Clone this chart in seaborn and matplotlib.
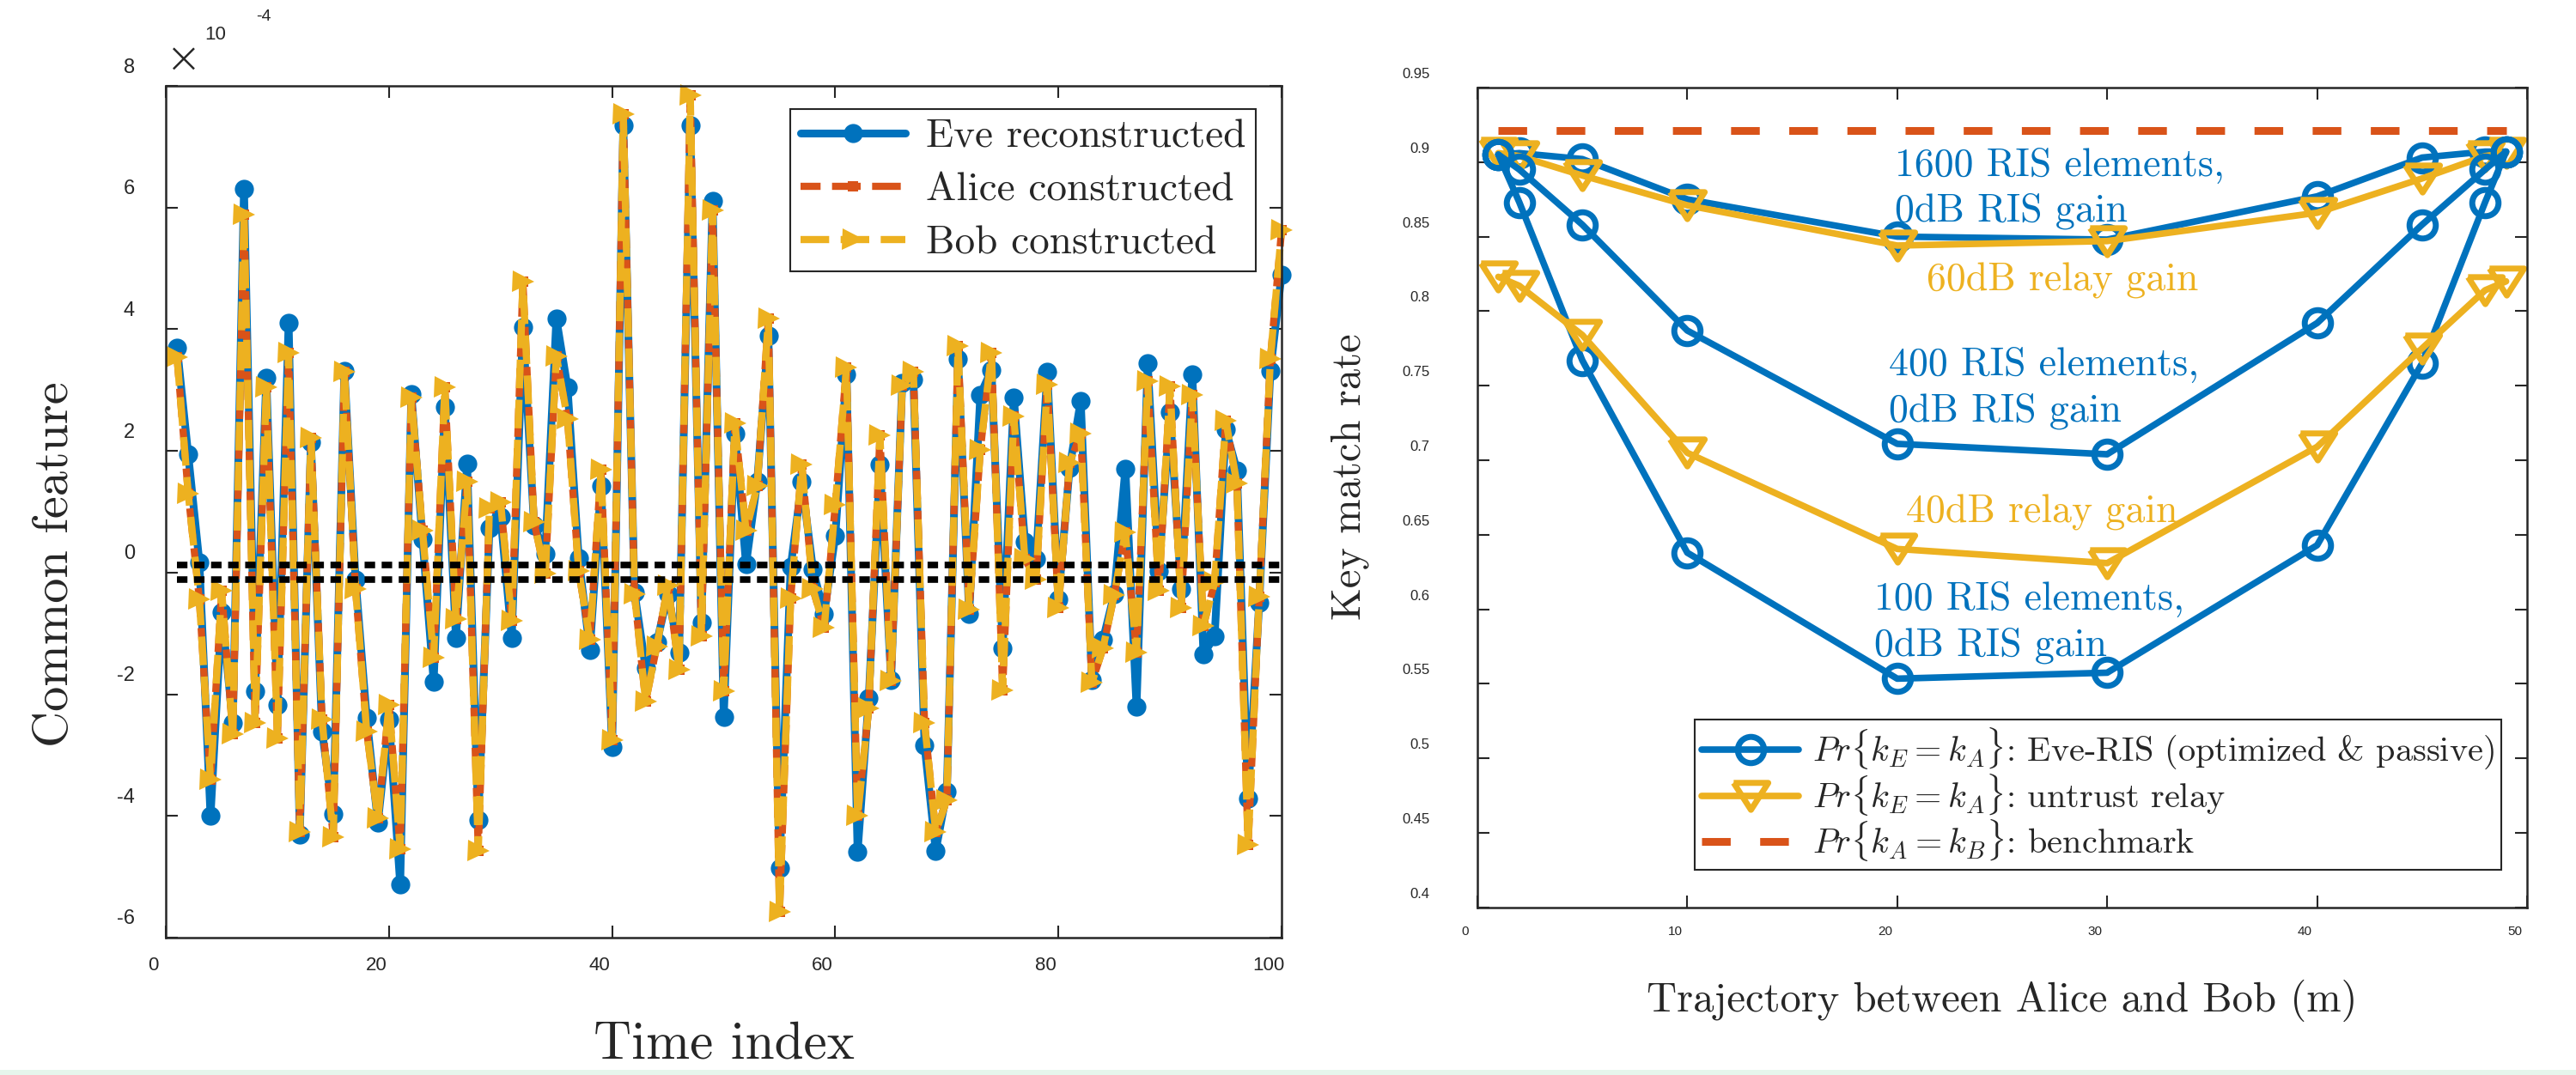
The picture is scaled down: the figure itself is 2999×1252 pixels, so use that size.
import numpy as np
import pandas as pd
import matplotlib
matplotlib.use("Agg")
import matplotlib.pyplot as plt
import matplotlib.transforms as mtransforms
from matplotlib.patches import Rectangle
import seaborn as sns

# ---- left panel data (values in units of 1e-4) ----
time_idx = list(range(1, 101))
eve = [3.70, 1.94, 0.17, -4.00, -0.65, -2.47, 6.30, -1.95, 3.20, -2.17,
       4.11, -4.30, 2.15, -2.61, -3.97, 3.32, -0.11, -2.39, -4.11, -2.42,
       -5.12, 2.93, 0.55, -1.79, 2.72, -1.08, 1.79, -4.07, 0.73, 0.92,
       -1.07, 4.03, 0.78, 0.31, 4.17, 3.04, 0.24, -1.27, 1.42, -2.87,
       7.35, -0.32, -1.57, -1.15, -0.35, -1.32, 7.35, -0.82, 6.11, -2.37,
       2.29, 0.14, 1.49, 3.89, -4.85, 0.09, 1.49, 0.05, -0.68, 0.61,
       3.26, -4.59, -2.06, 1.77, -1.76, 3.12, 3.18, -2.84, -4.57, -3.60,
       3.51, -0.68, 2.92, 3.33, -1.24, 2.88, 0.50, 0.22, 3.30, -0.44,
       1.72, 2.82, -1.76, -1.10, -0.35, 1.70, -2.20, 3.44, 0.03, 2.64,
       -0.27, 3.26, -1.34, -1.05, 2.35, 1.68, -3.71, -0.49, 3.32, 4.90]
bob = [3.54, 1.30, -0.44, -3.41, -0.30, -2.66, 5.88, -2.47, 3.04, -2.73,
       3.61, -4.27, 2.22, -2.42, -4.35, 3.30, -0.27, -2.61, -4.04, -2.18,
       -4.54, 2.88, 0.69, -1.40, 3.04, -0.77, 1.49, -4.57, 1.06, 1.16,
       -0.79, 4.78, 0.83, -0.02, 3.56, 2.52, 0.03, -1.10, 1.69, -2.75,
       7.53, -0.35, -2.12, -1.21, -0.21, -1.59, 7.84, -1.04, 5.96, -1.95,
       2.45, 0.69, 1.42, 4.17, -5.57, -0.42, 1.77, -0.27, -0.91, 1.11,
       3.37, -4.00, -2.23, 2.26, -1.78, 3.07, 3.30, -2.47, -4.26, -3.74,
       3.72, -0.61, 2.02, 3.61, -1.93, 2.57, 0.22, -0.11, 3.09, -0.58,
       1.80, 2.29, -1.81, -1.24, -0.37, 0.66, -1.31, 3.14, -0.30, 3.06,
       -0.58, 2.92, -0.87, -0.16, 2.50, 1.46, -4.47, -0.40, 3.51, 5.63]
alice = list(bob)
guard_x = [1, 100]
guard_hi = [0.12, 0.12]
guard_lo = [-0.12, -0.12]

# ---- right panel data ----
traj = [1, 2, 5, 10, 20, 30, 40, 45, 48, 49]
ris_1600 = [0.905, 0.906, 0.902, 0.875, 0.850, 0.848, 0.877, 0.903, 0.907, 0.907]
ris_400 = [0.905, 0.895, 0.858, 0.787, 0.711, 0.704, 0.792, 0.858, 0.895, 0.907]
ris_100 = [0.905, 0.873, 0.767, 0.638, 0.5535, 0.5575, 0.643, 0.765, 0.873, 0.907]
relay_60 = [0.906, 0.904, 0.891, 0.871, 0.844, 0.847, 0.866, 0.889, 0.904, 0.906]
relay_40 = [0.823, 0.817, 0.784, 0.705, 0.6405, 0.631, 0.709, 0.775, 0.814, 0.820]
bench = [0.921, 0.921, 0.921, 0.921, 0.921, 0.921, 0.921, 0.921, 0.921, 0.921]

BLUE = "#0072BD"
RED = "#D95319"
YEL = "#EDB120"
DARK = "#262626"
SERIF = "cmr10"

sns.set_style("ticks")
plt.rcParams["font.family"] = ["Liberation Sans", "DejaVu Sans"]
plt.rcParams["mathtext.fontset"] = "cm"
plt.rcParams["axes.unicode_minus"] = False

fig = plt.figure(figsize=(29.99, 12.52), dpi=100)
ax1 = fig.add_axes([0.0644, 0.1278, 0.4331, 0.7923])
ax2 = fig.add_axes([0.5735, 0.1558, 0.4075, 0.7628])

# ---------------- left panel ----------------
left = pd.DataFrame({"t": time_idx, "eve": eve, "alice": alice, "bob": bob})
sns.lineplot(data=left, x="t", y="eve", ax=ax1, color=BLUE, lw=6.5,
             marker="o", markersize=16, markeredgewidth=0, clip_on=False,
             label="Eve reconstructed")
sns.lineplot(data=left, x="t", y="alice", ax=ax1, color=RED, lw=6,
             ls=(1.2, (4.0, 1.6)), marker="s", markersize=8,
             markeredgewidth=0, clip_on=False, label="Alice constructed")
sns.lineplot(data=left, x="t", y="bob", ax=ax1, color=YEL, lw=6,
             ls=(0, (4.0, 1.6)), marker=">", markersize=18,
             markeredgewidth=0, clip_on=False, label="Bob constructed")
for gy in (guard_hi, guard_lo):
    sns.lineplot(x=guard_x, y=gy, ax=ax1, color="black", lw=5.5,
                 ls=(0, (1.6, 1.0)), legend=False)

ax1.set_xlim(0, 100)
ax1.set_ylim(-6, 8)
ax1.set_xticks(range(0, 101, 20))
ax1.set_yticks(range(-6, 9, 2))
ax1.set_xlabel("")
ax1.set_ylabel("")
ax1.tick_params(direction="in", length=10, width=1.5, colors=DARK,
                top=True, right=True, labelsize=17)
ax1.tick_params(axis="y", pad=26)
ax1.tick_params(axis="x", pad=16, labelsize=16)
for sp in ax1.spines.values():
    sp.set_linewidth(1.8)
    sp.set_color(DARK)

leg1 = ax1.legend(loc="upper right", bbox_to_anchor=(0.977, 0.973),
                  borderaxespad=0, fancybox=False, framealpha=1,
                  edgecolor=DARK, prop={"family": SERIF, "size": 34},
                  handlelength=2.6, labelspacing=0.42, borderpad=0.25,
                  handletextpad=0.5)
leg1.get_frame().set_linewidth(1.5)

fig.text(843 / 2999, 1 - 1217 / 1252, "Time index", family=SERIF,
         fontsize=44, ha="center", va="center", color=DARK)
fig.text(64 / 2999, 1 - 657 / 1252, "Common feature", family=SERIF,
         fontsize=42, ha="center", va="center", rotation=90, color=DARK)
fig.text(214 / 2999, 1 - 70 / 1252, "\u00d7", family="DejaVu Sans",
         fontsize=36, fontweight="light", ha="center", va="center",
         color=DARK)
fig.text(251 / 2999, 1 - 40 / 1252, "10", fontsize=16, ha="center",
         va="center", color=DARK)
fig.text(307 / 2999, 1 - 19 / 1252, "-4", fontsize=14, ha="center",
         va="center", color=DARK)

# ---------------- right panel ----------------
tri = [(-1, 0.78), (1, 0.78), (0, -0.78), (-1, 0.78)]
right = pd.DataFrame({"x": traj, "r1600": ris_1600, "r400": ris_400,
                      "r100": ris_100, "g60": relay_60, "g40": relay_40,
                      "bench": bench})
circ_kw = dict(color=BLUE, lw=5.5, marker="o", markersize=22,
               markerfacecolor="none", markeredgecolor=BLUE,
               markeredgewidth=5, clip_on=False)
tri_kw = dict(color=YEL, lw=5.5, marker=tri, markersize=29,
              markerfacecolor="none", markeredgecolor=YEL,
              markeredgewidth=5, clip_on=False)
sns.lineplot(data=right, x="x", y="r1600", ax=ax2,
             label=r"$Pr\{k_E = k_A\}$: Eve-RIS (optimized & passive)", **circ_kw)
sns.lineplot(data=right, x="x", y="g60", ax=ax2,
             label=r"$Pr\{k_E = k_A\}$: untrust relay", **tri_kw)
sns.lineplot(data=right, x="x", y="bench", ax=ax2, color=RED, lw=6.5,
             ls=(0, (3.7, 3.8)), label=r"$Pr\{k_A = k_B\}$: benchmark")
sns.lineplot(data=right, x="x", y="r400", ax=ax2, legend=False, **circ_kw)
sns.lineplot(data=right, x="x", y="r100", ax=ax2, legend=False, **circ_kw)
sns.lineplot(data=right, x="x", y="g40", ax=ax2, legend=False, **tri_kw)

notes = [
    (19.9, 0.8975, "1600 RIS elements,", BLUE),
    (19.9, 0.867, "0dB RIS gain", BLUE),
    (21.4, 0.8205, "60dB relay gain", YEL),
    (19.6, 0.7638, "400 RIS elements,", BLUE),
    (19.6, 0.7327, "0dB RIS gain", BLUE),
    (20.4, 0.6648, "40dB relay gain", YEL),
    (18.9, 0.6069, "100 RIS elements,", BLUE),
    (18.9, 0.5757, "0dB RIS gain", BLUE),
]
for nx, ny, txt, col in notes:
    ax2.text(nx, ny, txt, family=SERIF, fontsize=33, color=col,
             ha="left", va="center")

ax2.set_xlim(0, 50)
ax2.set_ylim(0.4, 0.95)
ax2.set_xticks(range(0, 51, 10))
yt = [round(0.4 + 0.05 * i, 2) for i in range(12)]
ax2.set_yticks(yt)
ax2.set_yticklabels([f"{v:g}" for v in yt])
ax2.set_xlabel("")
ax2.set_ylabel("")
ax2.tick_params(direction="in", length=10, width=1.5, colors=DARK,
                top=True, right=True, labelsize=12)
ax2.tick_params(axis="y", pad=40)
ax2.tick_params(axis="x", pad=15, labelsize=11)
for sp in ax2.spines.values():
    sp.set_linewidth(1.8)
    sp.set_color(DARK)

leg2 = ax2.legend(loc="lower right", bbox_to_anchor=(0.9755, 0.046),
                  borderaxespad=0, fancybox=False, framealpha=1,
                  edgecolor=DARK, prop={"family": SERIF, "size": 29},
                  handlelength=2.8, labelspacing=0.0, borderpad=0.2,
                  handletextpad=0.4)
leg2.get_frame().set_linewidth(1.5)

fig.text(2331 / 2999, 1 - 1165 / 1252, "Trajectory between Alice and Bob (m)",
         family=SERIF, fontsize=35, ha="center", va="center", color=DARK)
fig.text(1572 / 2999, 1 - 555 / 1252, "Key match rate", family=SERIF,
         fontsize=35, ha="center", va="center", rotation=90, color=DARK)

# thin mint strip at the very bottom of the screenshot
fig.patches.append(Rectangle((0, 0), 1, 6 / 1252, transform=fig.transFigure,
                             facecolor="#e6f5ec", edgecolor="none"))

# MATLAB export left the tick labels slightly displaced
fig.canvas.draw()


def shift(labels, dx, dy):
    off = mtransforms.ScaledTranslation(dx / 100, dy / 100, fig.dpi_scale_trans)
    for lab in labels:
        lab.set_transform(lab.get_transform() + off)


shift([t.label1 for t in ax1.yaxis.get_major_ticks()], 0, 24)
shift([t.label1 for t in ax1.xaxis.get_major_ticks()], -15, 0)
shift([t.label1 for t in ax2.yaxis.get_major_ticks()], 0, 17)
shift([t.label1 for t in ax2.xaxis.get_major_ticks()], -14, 0)

fig.savefig("out.png", dpi=100)
